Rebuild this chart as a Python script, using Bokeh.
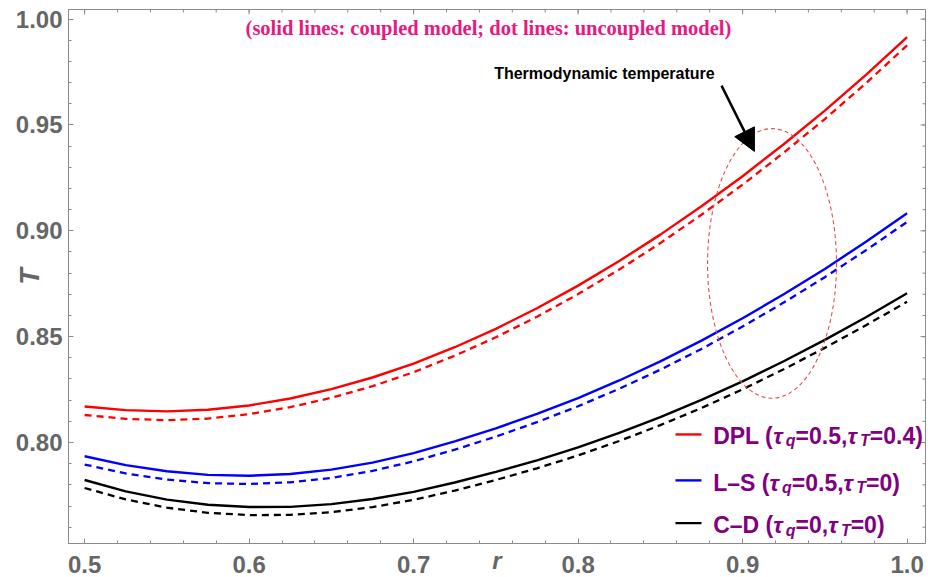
from bokeh.core.properties import value
from bokeh.embed import file_html
from bokeh.models import (Arrow, ColumnDataSource, FixedTicker, LinearAxis,
                          NormalHead, PrintfTickFormatter, Range1d)
from bokeh.plotting import figure
from bokeh.resources import INLINE

# radial coordinate
r = [0.500, 0.525, 0.550, 0.575, 0.600, 0.625, 0.650, 0.675, 0.700, 0.725, 0.750,
     0.775, 0.800, 0.825, 0.850, 0.875, 0.900, 0.925, 0.950, 0.975, 1.000]

# thermodynamic temperature, coupled (solid) and uncoupled (dashed) models
dpl_coupled = [0.8170, 0.8153, 0.8147, 0.8155, 0.8175, 0.8208, 0.8252, 0.8307, 0.8373, 0.8450, 0.8537,
               0.8634, 0.8741, 0.8857, 0.8982, 0.9116, 0.9258, 0.9409, 0.9568, 0.9737, 0.9915]
dpl_uncoupled = [0.8130, 0.8112, 0.8105, 0.8113, 0.8134, 0.8167, 0.8211, 0.8266, 0.8332, 0.8410, 0.8497,
                 0.8594, 0.8701, 0.8817, 0.8942, 0.9076, 0.9218, 0.9369, 0.9528, 0.9697, 0.9876]
ls_coupled = [0.7935, 0.7893, 0.7864, 0.7847, 0.7843, 0.7851, 0.7872, 0.7905, 0.7950, 0.8005, 0.8067,
              0.8135, 0.8210, 0.8293, 0.8383, 0.8481, 0.8587, 0.8700, 0.8820, 0.8948, 0.9083]
ls_uncoupled = [0.7896, 0.7854, 0.7825, 0.7808, 0.7804, 0.7812, 0.7833, 0.7866, 0.7911, 0.7966, 0.8028,
                0.8096, 0.8171, 0.8254, 0.8344, 0.8442, 0.8548, 0.8661, 0.8781, 0.8908, 0.9042]
cd_coupled = [0.7823, 0.7769, 0.7730, 0.7706, 0.7695, 0.7696, 0.7709, 0.7733, 0.7767, 0.7811, 0.7861,
              0.7916, 0.7977, 0.8045, 0.8120, 0.8201, 0.8289, 0.8384, 0.8485, 0.8592, 0.8705]
cd_uncoupled = [0.7785, 0.7731, 0.7692, 0.7668, 0.7657, 0.7658, 0.7671, 0.7695, 0.7729, 0.7773, 0.7823,
                0.7878, 0.7939, 0.8007, 0.8082, 0.8163, 0.8251, 0.8346, 0.8447, 0.8554, 0.8665]

x_ticks = [0.5, 0.6, 0.7, 0.8, 0.9, 1.0]
y_ticks = [0.80, 0.85, 0.90, 0.95, 1.00]

series = [
    (dpl_coupled, dpl_uncoupled, "#ff0000"),
    (ls_coupled, ls_uncoupled, "#0000ff"),
    (cd_coupled, cd_uncoupled, "#000000"),
]

# legend rows: colour and label pieces (n = plain, i = italic tau, s = subscript)
legend_rows = [
    ("#ff0000", [("DPL (", "n"), ("τ", "i"), ("q", "s"), ("=0.5,", "n"), ("τ", "i"), ("T", "s"), ("=0.4)", "n")]),
    ("#0000ff", [("L–S (", "n"), ("τ", "i"), ("q", "s"), ("=0.5,", "n"), ("τ", "i"), ("T", "s"), ("=0)", "n")]),
    ("#000000", [("C–D (", "n"), ("τ", "i"), ("q", "s"), ("=0,", "n"), ("τ", "i"), ("T", "s"), ("=0)", "n")]),
]

GRAY = "#8a8a8a"
LABEL_GRAY = "#666666"
PURPLE = "#800080"
FONT = "Liberation Sans"

X0, X1 = 0.4902, 1.0112
Y0, Y1 = 0.75229, 1.00454

p = figure(width=928, height=577, output_backend="svg", toolbar_location=None,
           x_range=Range1d(X0, X1), y_range=Range1d(Y0, Y1),
           min_border_left=68, min_border_right=3, min_border_top=9, min_border_bottom=34,
           x_axis_type=None, y_axis_type=None)
p.background_fill_color = "white"
p.border_fill_color = "white"
p.outline_line_color = GRAY
p.outline_line_width = 1

x_minor = [round(0.48 + 0.02 * i, 2) for i in range(28)]
y_minor = [round(0.75 + 0.01 * i, 2) for i in range(27)]


def make_axis(ticks, minor, fmt):
    ax = LinearAxis(ticker=FixedTicker(ticks=ticks, minor_ticks=minor),
                    formatter=PrintfTickFormatter(format=fmt))
    ax.axis_line_color = GRAY
    ax.major_tick_line_color = GRAY
    ax.minor_tick_line_color = GRAY
    ax.major_tick_in = 5
    ax.major_tick_out = 0
    ax.minor_tick_in = 3
    ax.minor_tick_out = 0
    ax.major_label_text_font = FONT
    ax.major_label_text_font_style = "bold"
    ax.major_label_text_font_size = "24px"
    ax.major_label_text_color = LABEL_GRAY
    ax.axis_label_text_font = FONT
    ax.axis_label_text_font_style = "bold italic"
    ax.axis_label_text_color = LABEL_GRAY
    return ax


xaxis = make_axis(x_ticks, x_minor, "%.1f")
xaxis.major_label_standoff = 12
xaxis.axis_label = "r"
xaxis.axis_label_text_font_size = "24px"
xaxis.axis_label_standoff = -29
p.add_layout(xaxis, "below")

yaxis = make_axis(y_ticks, y_minor, "%.2f")
yaxis.major_label_standoff = 6
yaxis.axis_label = "T"
yaxis.axis_label_text_font_size = "27px"
yaxis.axis_label_standoff = -32
p.add_layout(yaxis, "left")

# inward ticks along the top and right edges of the frame
px_x = (X1 - X0) / 857.0
px_y = (Y1 - Y0) / 534.0
p.segment(x0=x_ticks, y0=[Y1] * len(x_ticks), x1=x_ticks, y1=[Y1 - 5 * px_y] * len(x_ticks),
          line_color=GRAY, line_width=1)
p.segment(x0=x_minor, y0=[Y1] * len(x_minor), x1=x_minor, y1=[Y1 - 3 * px_y] * len(x_minor),
          line_color=GRAY, line_width=1)
p.segment(x0=[X1] * len(y_ticks), y0=y_ticks, x1=[X1 - 5 * px_x] * len(y_ticks), y1=y_ticks,
          line_color=GRAY, line_width=1)
p.segment(x0=[X1] * len(y_minor), y0=y_minor, x1=[X1 - 3 * px_x] * len(y_minor), y1=y_minor,
          line_color=GRAY, line_width=1)

# curves: uncoupled dashed underneath, coupled solid on top
for coupled, uncoupled, color in series:
    p.line(r, uncoupled, line_color=color, line_width=2.3, line_dash="7 5")
for coupled, uncoupled, color in series:
    p.line(r, coupled, line_color=color, line_width=2.4)

# dashed ellipse marking the temperature region
p.ellipse(x=[0.9179], y=[0.8846], width=[0.0784], height=[0.1275],
          fill_color=None, line_color="#e05050", line_width=1.1, line_dash="4 3")

# annotation arrow and its caption
p.add_layout(Arrow(end=NormalHead(size=22, fill_color="black", line_color="black"),
                   x_start=0.8872, y_start=0.9686, x_end=0.9072, y_end=0.9375,
                   line_color="black", line_width=2.5))
p.text(x=[0.8160], y=[0.9743], text=["Thermodynamic temperature"],
       text_font=value(FONT), text_font_style="bold", text_font_size="16px",
       text_color="black", text_align="center", text_baseline="middle")

# header note
p.text(x=[0.7455], y=[0.9956], text=["(solid lines: coupled model; dot lines: uncoupled model)"],
       text_font=value("Liberation Serif"), text_font_style="bold", text_font_size="20.5px",
       text_color="#e8197f", text_align="center", text_baseline="middle")

# legend drawn piece by piece so that subscripts can be lowered
EM = {"D": .722, "P": .667, "L": .611, " ": .278, "(": .333, ")": .333, "=": .584,
      ".": .278, ",": .278, "C": .722, "S": .667, "–": .556, "T": .611, "q": .611, "τ": .55}
for ch in "0123456789":
    EM[ch] = .556
SIZES = {"n": 23, "i": 23, "s": 16}

row_y = [0.8038, 0.7821, 0.7619]
base_y = [0.8031, 0.7810, 0.7609]
text_x0 = 0.8821
pieces = {"n": dict(x=[], y=[], text=[], dx=[], dy=[]),
          "i": dict(x=[], y=[], text=[], dx=[], dy=[]),
          "s": dict(x=[], y=[], text=[], dx=[], dy=[])}
for (color, parts), ly, by in zip(legend_rows, row_y, base_y):
    p.segment(x0=[0.8592], y0=[ly], x1=[0.8750], y1=[ly], line_color=color, line_width=2.4)
    offset = 0.0
    for txt, kind in parts:
        d = pieces[kind]
        d["x"].append(text_x0)
        d["y"].append(by)
        d["text"].append(txt)
        d["dx"].append(offset)
        d["dy"].append(5 if kind == "s" else 0)
        offset += sum(EM.get(c, 0.55) for c in txt) * SIZES[kind]

for kind, style in (("n", "bold"), ("i", "bold italic"), ("s", "bold italic")):
    src = ColumnDataSource(pieces[kind])
    p.text(x="x", y="y", text="text", x_offset="dx", y_offset="dy", source=src,
           text_font=value(FONT), text_font_style=style,
           text_font_size=f"{SIZES[kind]}px", text_color=PURPLE,
           text_align="left", text_baseline="alphabetic")

p.xgrid.visible = False
p.ygrid.visible = False

open("out.html", "w").write(file_html(p, INLINE))
